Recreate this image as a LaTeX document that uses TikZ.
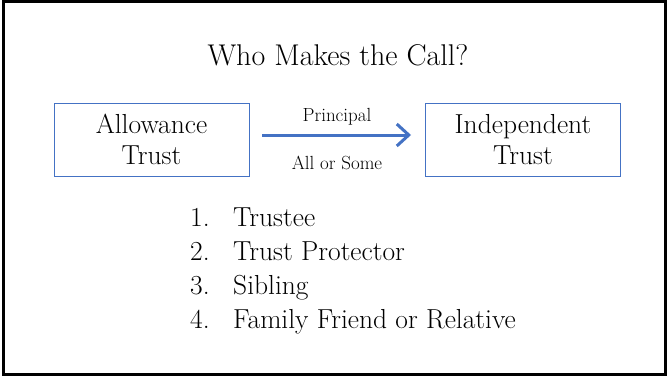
\documentclass[tikz,border=0pt]{standalone}
\usepackage{fontspec}
\setmainfont{Latin Modern Roman}
\usetikzlibrary{arrows.meta}
\definecolor{boxblue}{RGB}{68,114,196}
\begin{document}
\begin{tikzpicture}[x=1pt,y=-1pt,
  trustbox/.style={draw=boxblue,line width=0.9pt,minimum width=195pt,minimum height=73pt,align=center,font=\fontsize{27.5}{31}\selectfont,inner sep=0pt},
  small/.style={font=\fontsize{19}{22}\selectfont,inner sep=0pt},
  item/.style={font=\fontsize{27.5}{30}\selectfont,anchor=base west,inner sep=0pt}]
\useasboundingbox (0,0) rectangle (669,381);
\fill[white] (0,0) rectangle (669,381);
\draw[line width=2.6pt] (3.5,1.5) rectangle (665.5,374.5);
\node[font=\fontsize{30}{34}\selectfont] (title) at (338,55) {Who Makes the Call?};
\node[trustbox] (a) at (151.5,139.5) {Allowance\\Trust};
\node[trustbox] (b) at (523,139.5) {Independent\\Trust};
\coordinate (s) at (262,135);
\coordinate (e) at (411,135);
\draw[boxblue,line width=3pt,-{Straight Barb[length=12pt,width=22pt,line width=3pt]}] (s) -- (e);
\node[small] (p) at (337,117) {Principal};
\node[small] (q) at (337,163) {All or Some};
\node[item] (n1) at (190,226) {1.};
\node[item] (i1) at (233,226) {Trustee};
\node[item] (n2) at (190,260) {2.};
\node[item] (i2) at (233,260) {Trust Protector};
\node[item] (n3) at (190,294) {3.};
\node[item] (i3) at (233,294) {Sibling};
\node[item] (n4) at (190,328) {4.};
\node[item] (i4) at (233,328) {Family Friend or Relative};
\end{tikzpicture}
\end{document}
